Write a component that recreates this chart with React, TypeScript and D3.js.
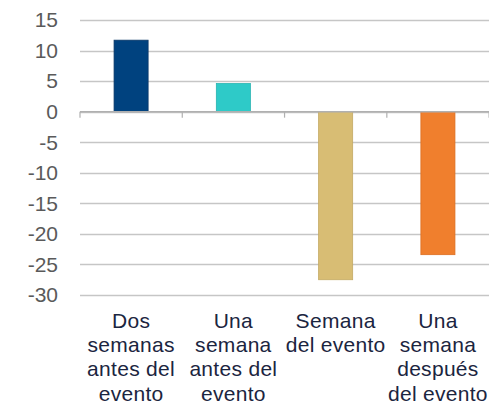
import React from "react";
import * as d3 from "d3";

const categories = [
  ["Dos", "semanas", "antes del", "evento"],
  ["Una", "semana", "antes del", "evento"],
  ["Semana", "del evento"],
  ["Una", "semana", "después", "del evento"],
];
const values = [11.7, 4.6, -27.5, -23.4];
const colors = ["#00427f", "#2ecac8", "#d8bd74", "#f07f2d"];
const strokes = ["#0b3766", "#26b3b1", "#c4aa64", "#dc6f22"];
const yTicks = [15, 10, 5, 0, -5, -10, -15, -20, -25, -30];

export default function App() {
  const W = 489, H = 406;
  const x0 = 80, x1 = 489;
  const y = d3.scaleLinear().domain([-30, 15]).range([295, 20]);
  const x = d3
    .scaleBand<number>()
    .domain(d3.range(categories.length))
    .range([x0, x1])
    .paddingInner(0.667)
    .paddingOuter(0.333);
  const step = x.step();
  const font = "'Liberation Sans', Arial, sans-serif";
  return (
    <svg width={W} height={H} style={{ position: "absolute", left: 0, top: 0 }}>
      <rect width={W} height={H} fill="#fff" />
      {yTicks.map((t) => (
        <g key={t}>
          <line x1={x0} x2={x1} y1={Math.round(y(t)) + 0.5} y2={Math.round(y(t)) + 0.5} stroke="#c6c6c6" strokeWidth={1.5} />
          <text x={58} y={y(t)} dy="0.35em" textAnchor="end" fontFamily={font} fontSize={21} fill="#5a5a5a">
            {t}
          </text>
        </g>
      ))}
      {values.map((v, i) => {
        const top = y(Math.max(0, v));
        const bot = y(Math.min(0, v));
        return (
          <rect key={i} x={x(i)} y={top} width={x.bandwidth()} height={bot - top} fill={colors[i]} stroke={strokes[i]} strokeWidth={0.8} />
        );
      })}
      <line x1={x0} x2={x1} y1={y(0)} y2={y(0)} stroke="#b0b0b0" strokeWidth={1.5} />
      {d3.range(categories.length + 1).map((i) => (
        <line key={i} x1={x0 + i * step} x2={x0 + i * step} y1={y(0)} y2={y(0) + 6} stroke="#b0b0b0" strokeWidth={1.2} />
      ))}
      {categories.map((lines, i) => (
        <text key={i} x={(x(i) as number) + x.bandwidth() / 2} textAnchor="middle" fontFamily={font} fontSize={21} letterSpacing={0.3} fill="#1b2540">
          {lines.map((l, j) => (
            <tspan key={j} x={(x(i) as number) + x.bandwidth() / 2} y={328 + j * 24.2}>
              {l}
            </tspan>
          ))}
        </text>
      ))}
    </svg>
  );
}
